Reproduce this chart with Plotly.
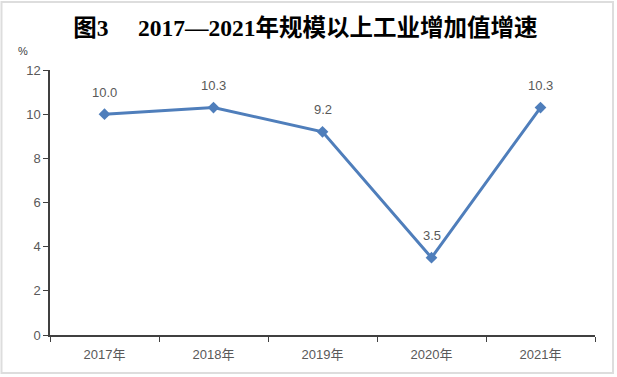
import plotly.graph_objects as go

years = ["2017年", "2018年", "2019年", "2020年", "2021年"]
growth = [10.0, 10.3, 9.2, 3.5, 10.3]
labels = ["10.0", "10.3", "9.2", "3.5", "10.3"]
y_ticks = [0, 2, 4, 6, 8, 10, 12]

fig = go.Figure()
fig.add_trace(go.Scatter(
    x=years, y=growth, mode="lines+markers",
    line=dict(color="#4F7EBB", width=3),
    marker=dict(symbol="diamond", size=9, color="#4F7EBB"),
    cliponaxis=False, showlegend=False, hoverinfo="skip",
))

label_annotations = [
    dict(x=xv, y=yv, text=t, xref="x", yref="y", showarrow=False, yshift=22,
         font=dict(family="Liberation Sans, Noto Sans CJK SC", size=13, color="#595959"))
    for xv, yv, t in zip(years, growth, labels)
]

fig.update_layout(
    width=617, height=377,
    margin=dict(l=50, r=22, t=70, b=42, autoexpand=False),
    paper_bgcolor="white", plot_bgcolor="white",
    title=dict(text="图3     2017—2021年规模以上工业增加值增速",
               x=0.495, xanchor="center", y=0.926, yanchor="middle",
               font=dict(family="Liberation Serif, Noto Sans CJK SC", size=23.5, color="black", weight="bold")),
    xaxis=dict(type="category", range=[-0.5, 4.5], automargin=False, showline=True, linecolor="#404040", linewidth=1.5,
               ticks="outside", tickson="boundaries", ticklen=5, tickcolor="#404040", ticklabelstandoff=7,
               showgrid=False, tickfont=dict(family="Liberation Sans, Noto Sans CJK SC", size=13, color="#595959")),
    yaxis=dict(range=[0, 12], automargin=False, tickvals=y_ticks, showline=True, linecolor="#404040", linewidth=1.5,
               ticks="outside", ticklen=5, tickcolor="#404040", showgrid=False, zeroline=False,
               tickfont=dict(family="Liberation Sans", size=13, color="#595959")),
    shapes=[dict(type="rect", xref="paper", yref="paper", x0=-0.089, x1=1.033, y0=-0.143, y1=1.257,
                 line=dict(color="#DDDDDD", width=2), fillcolor="rgba(0,0,0,0)", layer="below")],
    annotations=label_annotations + [dict(text="%", xref="paper", yref="paper", x=-0.062, y=1.1, showarrow=False,
                      font=dict(family="Liberation Sans", size=11, color="#404040"))],
)

fig.write_html("out.html", config={"displayModeBar": False},
               post_script="document.body.style.margin='0';")
